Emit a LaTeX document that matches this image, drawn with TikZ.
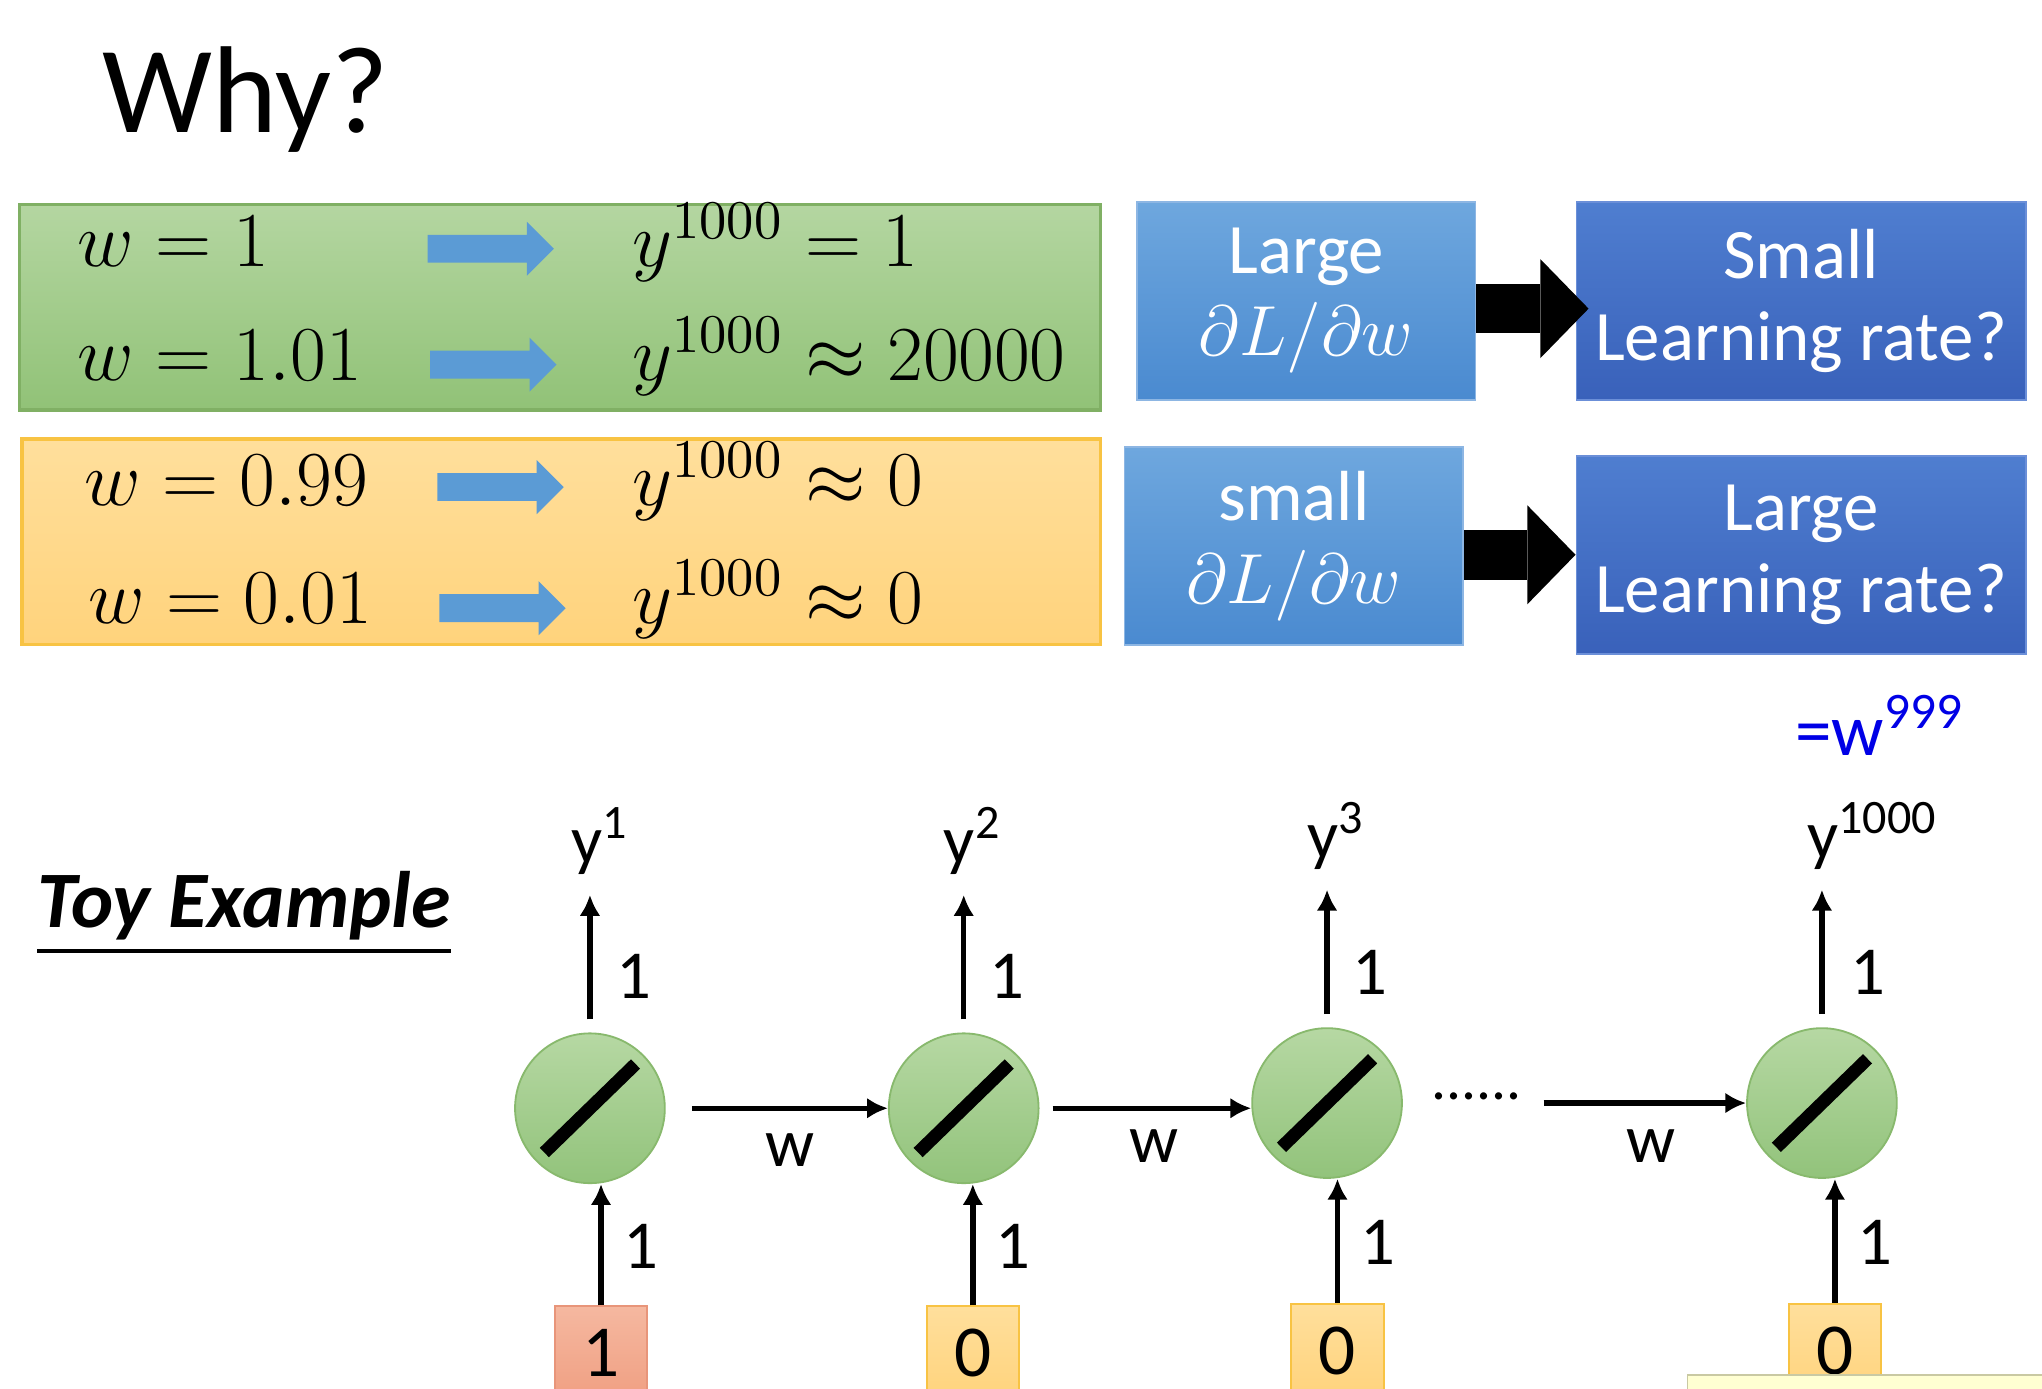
\documentclass[tikz,border=0pt]{standalone}
\usepackage{fix-cm}
\usepackage{amsmath,amssymb}
\usepackage{fontspec}
\newfontfamily\calib{Carlito}
\usepackage{tikz}
\usetikzlibrary{arrows.meta,shapes.arrows}
\definecolor{greentop}{HTML}{B4D6A1}
\definecolor{greenbot}{HTML}{91C277}
\definecolor{greenedge}{HTML}{80B064}
\definecolor{orangetop}{HTML}{FFDF9C}
\definecolor{orangebot}{HTML}{FFD37C}
\definecolor{orangeedge}{HTML}{F8C343}
\definecolor{arrowblue}{HTML}{5B9BD5}
\definecolor{lighttop}{HTML}{6EA7DE}
\definecolor{lightbot}{HTML}{4A8AD0}
\definecolor{lightedge}{HTML}{8DB6E3}
\definecolor{darktop}{HTML}{4F7ED0}
\definecolor{darkbot}{HTML}{3961BA}
\definecolor{darkedge}{HTML}{6B8FD8}
\definecolor{neurontop}{HTML}{B6D8A3}
\definecolor{neuronbot}{HTML}{92C37B}
\definecolor{neuronedge}{HTML}{88B96D}
\definecolor{salmontop}{HTML}{F5B8A0}
\definecolor{salmonbot}{HTML}{F09F82}
\definecolor{salmonedge}{HTML}{E8957A}
\definecolor{powblue}{HTML}{0000E6}
\definecolor{notefill}{HTML}{FFFFD2}
\definecolor{noteedge}{HTML}{C9C9A3}
\tikzset{
    every node/.style={inner sep=0mm, font=\calib\fontsize{15}{18}\selectfont}
}
\tikzset{title/.style={anchor=base west, font=\calib\fontsize{27}{32}\selectfont}}
\tikzset{mathrow/.style={anchor=base west, font=\fontsize{17}{20}\selectfont}}
\tikzset{greenbox/.style={rectangle, draw=greenedge, line width=0.8pt, top color=greentop, bottom color=greenbot, minimum width=8.30cm, minimum height=1.58cm}}
\tikzset{orangebox/.style={rectangle, draw=orangeedge, line width=0.8pt, top color=orangetop, bottom color=orangebot, minimum width=8.28cm, minimum height=1.58cm}}
\tikzset{bluearrow/.style={single arrow, fill=arrowblue, inner ysep=0.1cm, minimum height=0.97cm, single arrow head extend=0.1cm}}
\tikzset{lightbox/.style={rectangle, draw=lightedge, top color=lighttop, bottom color=lightbot, text=white, align=center, minimum width=2.60cm, minimum height=1.52cm, font=\calib\fontsize{15.5}{18}\selectfont}}
\tikzset{darkbox/.style={rectangle, draw=darkedge, top color=darktop, bottom color=darkbot, text=white, align=center, minimum width=3.45cm, minimum height=1.52cm, font=\calib\fontsize{15.5}{18}\selectfont}}
\tikzset{blockarrow/.style={line width=0.38cm, -{Triangle[width=0.76cm, length=0.37cm, line width=0pt]}}}
\tikzset{neuron/.style={circle, draw=neuronedge, top color=neurontop, bottom color=neuronbot, minimum size=1.15cm,
    path picture={\draw [draw=black, line width=0.1cm] ([shift={(-0.35cm,-0.34cm)}]path picture bounding box.center) -- ([shift={(0.35cm,0.34cm)}]path picture bounding box.center);}}}
\tikzset{zerobox/.style={rectangle, draw=orangeedge, top color=orangetop, bottom color=orangebot, minimum width=0.71cm, minimum height=0.72cm, font=\calib\fontsize{16}{19}\selectfont}}
\tikzset{onebox/.style={rectangle, draw=salmonedge, top color=salmontop, bottom color=salmonbot, minimum width=0.71cm, minimum height=0.72cm, font=\calib\fontsize{16}{19}\selectfont}}
\tikzset{ylab/.style={anchor=base, inner ysep=0.15cm}}
\tikzset{wire/.style={line width=1.2pt, ->, >={Latex[length=1.6mm, width=1.6mm]}}}

\begin{document}
\begin{tikzpicture}
  \path [use as bounding box, fill=white] (0cm, 0cm) rectangle (15.68cm, -10.66cm);

  \node (why) [title] at (0.78cm, -1.02cm) {Why?};

  % the four cases
  \node (gbox) [greenbox] at (4.30cm, -2.36cm) {};
  \node (obox) [orangebox] at (4.31cm, -4.16cm) {};

  \node (wa) [mathrow] at (0.59cm, -2.05cm) {$w = 1$};
  \node (wb) [mathrow] at (0.59cm, -2.92cm) {$w = 1.01$};
  \node (wc) [mathrow] at (0.64cm, -3.88cm) {$w = 0.99$};
  \node (wd) [mathrow] at (0.67cm, -4.79cm) {$w = 0.01$};

  \node (ba) [bluearrow] at (3.715cm, -1.91cm) {};
  \node (bb) [bluearrow] at (3.735cm, -2.80cm) {};
  \node (bc) [bluearrow] at (3.79cm, -3.74cm) {};
  \node (bd) [bluearrow] at (3.805cm, -4.67cm) {};

  \node (ya) [mathrow] at (4.85cm, -2.05cm) {$y^{1000} = 1$};
  \node (yb) [mathrow] at (4.85cm, -2.92cm) {$y^{1000} \approx 20000$};
  \node (yc) [mathrow] at (4.85cm, -3.88cm) {$y^{1000} \approx 0$};
  \node (yd) [mathrow] at (4.85cm, -4.79cm) {$y^{1000} \approx 0$};

  \node (lga) [lightbox] at (10.03cm, -2.31cm) {Large\\$\partial L/\partial w$};
  \node (sml) [darkbox] at (13.83cm, -2.31cm) {Small\\Learning rate?};
  \node (smg) [lightbox] at (9.935cm, -4.195cm) {small\\$\partial L/\partial w$};
  \node (lgl) [darkbox] at (13.83cm, -4.26cm) {Large\\Learning rate?};

  \draw [blockarrow, shorten >=-0.1cm] ([yshift=-0.06cm]lga.east) -- ([yshift=-0.06cm]sml.west);
  \draw [blockarrow] (smg.east |- lgl.west) -- (lgl.west);

  \node (pow) [anchor=base west, text=powblue, font=\calib\fontsize{16}{19}\selectfont] at (13.78cm, -5.80cm) {=w\textsuperscript{999}};

  % toy network
  \node (toy) [anchor=base west, font=\calib\bfseries\itshape\fontsize{17.5}{21}\selectfont] at (0.28cm, -7.12cm) {\underline{Toy Example}};

  \node (n1) [neuron] at (4.53cm, -8.51cm) {};
  \node (n2) [neuron] at (7.40cm, -8.51cm) {};
  \node (n3) [neuron] at (10.19cm, -8.47cm) {};
  \node (n4) [neuron] at (13.99cm, -8.47cm) {};

  \node (y1) [ylab] at (4.61cm, -6.63cm) {y\textsuperscript{1}};
  \node (y2) [ylab] at (7.47cm, -6.63cm) {y\textsuperscript{2}};
  \node (y3) [ylab] at (10.26cm, -6.59cm) {y\textsuperscript{3}};
  \node (y4) [ylab] at (14.38cm, -6.59cm) {y\textsuperscript{1000}};

  \node (i1) [onebox] at (4.615cm, -10.39cm) {1};
  \node (i2) [zerobox] at (7.47cm, -10.39cm) {0};
  \node (i3) [zerobox] at (10.27cm, -10.37cm) {0};
  \node (i4) [zerobox] at (14.09cm, -10.37cm) {0};

  \node (u1) at (4.87cm, -7.50cm) {1};
  \node (u2) at (7.73cm, -7.50cm) {1};
  \node (u3) at (10.52cm, -7.47cm) {1};
  \node (u4) at (14.34cm, -7.47cm) {1};
  \node (v1) at (4.92cm, -9.57cm) {1};
  \node (v2) at (7.78cm, -9.57cm) {1};
  \node (v3) at (10.58cm, -9.54cm) {1};
  \node (v4) at (14.40cm, -9.54cm) {1};

  \node (w12) at (6.07cm, -8.83cm) {w};
  \node (w23) at (8.86cm, -8.80cm) {w};
  \node (w34) at (12.68cm, -8.80cm) {w};
  \node (dots) [font=\calib\fontsize{13}{16}\selectfont] at (11.34cm, -8.42cm) {......};

  \node (note) [rectangle, anchor=north west, draw=noteedge, fill=notefill, minimum width=3.2cm, minimum height=0.6cm] at (12.95cm, -10.55cm) {};

  \draw [wire, shorten <=0.1cm] (n1.north) -- (n1.north |- y1.south);
  \draw [wire, shorten <=0.1cm] (n2.north) -- (n2.north |- y2.south);
  \draw [wire, shorten <=0.1cm] (n3.north) -- (n3.north |- y3.south);
  \draw [wire, shorten <=0.1cm] (n4.north) -- (n4.north |- y4.south);

  \draw [wire] (i1.north) -- (i1.north |- n1.south);
  \draw [wire] (i2.north) -- (i2.north |- n2.south);
  \draw [wire] (i3.north) -- (i3.north |- n3.south);
  \draw [wire] (i4.north) -- (i4.north |- n4.south);

  \draw [wire, shorten <=0.2cm] (n1) -- (n2);
  \draw [wire, shorten <=0.1cm] (n2.east) -- (n2.east -| n3.west);
  \draw [wire, shorten <=0.16cm] (dots.east |- n4) -- (n4);
\end{tikzpicture}
\end{document}
